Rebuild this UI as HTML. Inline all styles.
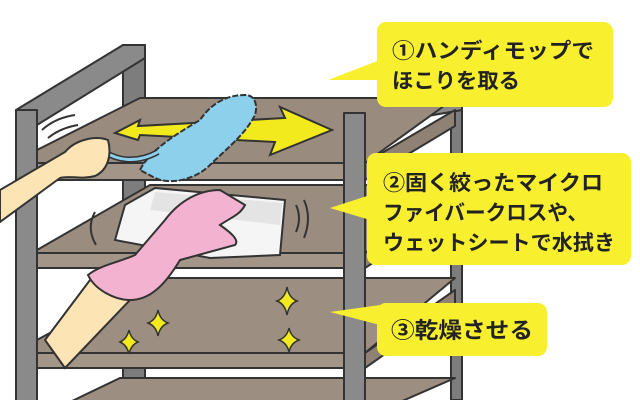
<!DOCTYPE html>
<html><head><meta charset="utf-8"><style>
html,body{margin:0;padding:0;background:#fff;width:640px;height:400px;overflow:hidden}
svg{display:block}
text{font-family:"Liberation Sans","Noto Sans CJK JP",sans-serif;font-weight:bold;fill:#222}
</style></head><body>
<svg width="640" height="400" viewBox="0 0 640 400" xmlns="http://www.w3.org/2000/svg">
<g stroke="#333" stroke-width="2" stroke-linejoin="round">
<rect x="123" y="45" width="22" height="360" fill="#7d7d7d"/>
<rect x="451" y="100" width="11" height="300" fill="#7d7d7d"/>
<polygon points="16,110 123,45 145,45 145,58 37,125 16,125" fill="#8a8a8a"/>
<polygon points="344,113 455,96 462,100 462,110 365,127 344,127" fill="#8a8a8a"/>

<polygon points="37,150 140,98 455,98 365,163 37,163" fill="#998c7f"/>
<rect x="37" y="163" width="308" height="17" fill="#a39689"/>
<polygon points="365,163 455,110 455,126 365,180" fill="#8f8275"/>

<polygon points="37,250 150,185 455,185 365,253 37,253" fill="#9a8d80"/>
<rect x="37" y="253" width="308" height="15" fill="#a39689"/>
<polygon points="365,253 455,195 455,210 365,268" fill="#8f8275"/>

<polygon points="37,340 150,278 455,278 365,353 37,353" fill="#9c8f82"/>
<rect x="37" y="353" width="308" height="15" fill="#a39689"/>
<polygon points="365,353 455,290 455,305 365,368" fill="#8f8275"/>

<polygon points="70,402 120,378 455,378 400,402" fill="#9c8f82"/>
<rect x="16" y="110" width="21" height="295" fill="#8a8a8a"/>
<rect x="344" y="113" width="21" height="292" fill="#8a8a8a"/>
</g>
<polygon points="115,133 140,120 138,126 285,118 280,107 332,130 270,155 275,142 140,135 138,140" fill="#f2ea1c" stroke="#333" stroke-width="2"/>
<path d="M140,170 C150,150 175,135 200,120 C210,105 225,95 245,95 C255,95 258,105 255,115 C245,135 225,150 210,165 C195,180 170,185 155,178 Z" fill="#8cd0ec" stroke="#333" stroke-width="2" stroke-dasharray="6 2"/>
<path d="M105,152 C120,162 140,162 158,152" fill="none" stroke="#333" stroke-width="6"/>
<path d="M105,152 C120,162 140,162 158,152" fill="none" stroke="#8cd0ec" stroke-width="3"/>
<path d="M0,190 L65,152 C75,140 95,135 108,140 C112,155 108,170 95,176 C80,180 70,175 60,178 L0,222 Z" fill="#fde4b4" stroke="#333" stroke-width="2"/>
<polygon points="125,205 155,188 285,200 280,255 210,258 115,240" fill="#f5f5f5" stroke="#333" stroke-width="2"/>
<polygon points="155,192 282,203 280,225 150,210" fill="#e4e4e4"/>
<path d="M45,340 L90,280 L130,300 L65,368 Z" fill="#fde4b4" stroke="#333" stroke-width="2"/>
<path d="M88,275 C100,265 120,262 135,255 L165,220 C180,200 200,190 220,190 L245,205 C240,215 230,218 220,225 C230,232 240,240 235,245 L180,260 C165,285 150,300 130,300 C115,300 95,290 88,275 Z" fill="#f3b2d0" stroke="#333" stroke-width="2"/>
<g fill="none" stroke="#333" stroke-width="2">
<path d="M42,130 Q55,118 75,115"/><path d="M48,138 Q60,128 78,125"/>
<path d="M95,212 Q86,228 96,245"/><path d="M304,200 Q312,218 304,238"/><path d="M296,205 Q302,218 296,232"/>
</g>
<g fill="#f2ea1c" stroke="#333" stroke-width="1.5">
<path d="M287,287 Q289,298 297,301 Q289,304 287,315 Q285,304 277,301 Q285,298 287,287Z"/>
<path d="M158,310 Q160,320 168,323 Q160,326 158,336 Q156,326 148,323 Q156,320 158,310Z"/>
<path d="M129,330 Q131,339 138,342 Q131,345 129,354 Q127,345 120,342 Q127,339 129,330Z"/>
<path d="M289,328 Q291,337 299,340 Q291,343 289,352 Q287,343 279,340 Q287,337 289,328Z"/>
</g>
<g fill="#f8f02e">
<rect x="377" y="22" width="236" height="85" rx="9"/>
<polygon points="380,60 380,80 328,80"/>
<rect x="367" y="153" width="264" height="112" rx="9"/>
<polygon points="370,195 370,220 330,208"/>
<rect x="377" y="303" width="170" height="53" rx="9"/>
<polygon points="380,305 380,325 330,312"/>
</g>
<text x="392" y="58" font-size="21" textLength="202" lengthAdjust="spacingAndGlyphs">①ハンディモップで</text>
<text x="392" y="88" font-size="21" textLength="128" lengthAdjust="spacingAndGlyphs">ほこりを取る</text>
<text x="383" y="190" font-size="21" textLength="220" lengthAdjust="spacingAndGlyphs">②固く絞ったマイクロ</text>
<text x="383" y="220" font-size="21" textLength="205" lengthAdjust="spacingAndGlyphs">ファイバークロスや、</text>
<text x="383" y="250" font-size="21" textLength="232" lengthAdjust="spacingAndGlyphs">ウェットシートで水拭き</text>
<text x="391" y="338" font-size="22" textLength="142" lengthAdjust="spacingAndGlyphs">③乾燥させる</text>
</svg>
</body></html>
